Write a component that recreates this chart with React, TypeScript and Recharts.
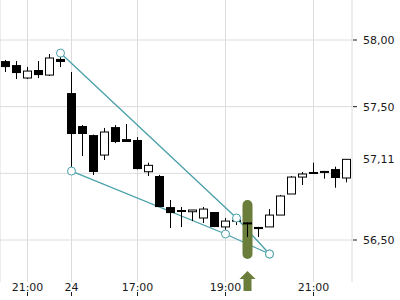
import React from 'react';
import { ComposedChart, Bar, Line, XAxis, YAxis, CartesianGrid, ReferenceArea, ReferenceDot } from 'recharts';

// 15 min bars, day 23 evening + day 24
const slots = [
  '23 20:30', '23 20:45', '23 21:00', '23 21:15', '23 21:30', '23 21:45',
  '24 15:30', '24 15:45', '24 16:00', '24 16:15', '24 16:30', '24 16:45',
  '24 17:00', '24 17:15', '24 17:30', '24 17:45', '24 18:00', '24 18:15',
  '24 18:30', '24 18:45', '24 19:00', '24 19:15', '24 19:30', '24 19:45',
  '24 20:00', '24 20:15', '24 20:30', '24 20:45', '24 21:00', '24 21:15',
  '24 21:30', '24 21:45',
];

const opens = [
  57.842, 57.812, 57.715, 57.775, 57.737, 57.858,
  57.602, 57.355, 57.287, 57.137, 57.347, 57.257,
  57.25, 57.012, 56.98, 56.747, 56.725, 56.712,
  56.665, 56.71, 56.598, 56.652, 56.632, 56.598,
  56.598, 56.687, 56.845, 56.972, 57.01, 57.018,
  57.032, 56.965,
];
const highs = [
  57.85, 57.842, 57.798, 57.842, 57.895, 57.902,
  57.76, 57.362, 57.29, 57.34, 57.362, 57.37,
  57.272, 57.08, 56.988, 56.8, 56.748, 56.725,
  56.748, 56.71, 56.665, 56.68, 56.632, 56.598,
  56.732, 56.838, 56.98, 57.01, 57.08, 57.018,
  57.05, 57.105,
];
const lows = [
  57.76, 57.707, 57.707, 57.715, 57.73, 57.797,
  57.01, 57.13, 56.987, 57.1, 57.227, 57.235,
  57.03, 56.98, 56.747, 56.59, 56.597, 56.642,
  56.627, 56.597, 56.545, 56.612, 56.522, 56.522,
  56.598, 56.687, 56.845, 56.912, 56.997, 56.96,
  56.892, 56.932,
];
const closes = [
  57.797, 57.752, 57.767, 57.737, 57.865, 57.835,
  57.295, 57.295, 57.01, 57.31, 57.235, 57.235,
  57.032, 57.06, 56.747, 56.702, 56.71, 56.725,
  56.732, 56.597, 56.642, 56.648, 56.622, 56.582,
  56.687, 56.83, 56.972, 56.995, 56.998, 57.005,
  56.965, 57.105,
];

const xTicks = ['23 21:00', '24 15:30', '24 17:00', '24 19:00', '24 21:00'];
const xTickLabels = ['21:00', '24', '17:00', '19:00', '21:00'];

const yTicks = [56.5, 57, 57.11, 57.5, 58];
const yTickLabels = ['56,50', '57,00', '57,11', '57,50', '58,00'];
const gridValues = [56.5, 57, 57.5, 58];
const lastPrice = 57.11;
const yMin = 56.185;
const yMax = 58.3;

// drawn trend lines
const upperSlots = ['23 21:45', '24 19:15', '24 20:00'];
const upperValues = [57.902, 56.665, 56.395];
const lowerSlots = ['24 15:30', '24 19:00', '24 20:00'];
const lowerValues = [57.017, 56.545, 56.395];

// highlighted bar + arrow marker
const markSlot = '24 19:30';
const markLow = 56.358;
const markHigh = 56.8;
const arrowValue = 56.192;

const teal = '#4aa0a8';
const olive = '#6b7d3a';
const textColor = '#1a1a1a';
const font = 'DejaVu Sans';

const data = slots.map((slot, i) => ({
  slot,
  open: opens[i],
  high: highs[i],
  low: lows[i],
  close: closes[i],
  range: [lows[i], highs[i]],
  upper: upperValues[upperSlots.indexOf(slot)] ?? null,
  lower: lowerValues[lowerSlots.indexOf(slot)] ?? null,
}));

const Candle = (props: any) => {
  const { x, y, width, height, payload } = props;
  const top = Math.min(y, y + height);
  const h = Math.abs(height);
  const { open, close, high, low } = payload;
  const px = (v: number) => top + ((high - v) / (high - low)) * h;
  const cx = Math.floor(x + width / 2) + 0.5;
  const bodyTop = px(Math.max(open, close));
  const bodyBottom = px(Math.min(open, close));
  const up = close > open;
  return (
    <g>
      <line x1={cx} x2={cx} y1={top} y2={top + h} stroke="#000" strokeWidth={1} />
      {up ? (
        <rect x={cx - 4} y={bodyTop} width={8} height={Math.max(bodyBottom - bodyTop, 1)} fill="#fff" stroke="#000" strokeWidth={1} />
      ) : (
        <rect x={cx - 4.5} y={bodyTop} width={9} height={Math.max(bodyBottom - bodyTop, 2)} fill="#000" />
      )}
    </g>
  );
};

const XTick = ({ x, y, payload }: any) => {
  const label = xTickLabels[xTicks.indexOf(payload.value)];
  return (
    <g>
      <line x1={x} x2={x} y1={y + 10} y2={y + 14} stroke={textColor} />
      <text x={x} y={y + 9} textAnchor="middle" fontSize={11} fontFamily={font} fill={textColor}>
        {label}
      </text>
    </g>
  );
};

const YTick = ({ x, y, payload }: any) => {
  const label = yTickLabels[yTicks.indexOf(payload.value)];
  const isLast = payload.value === lastPrice;
  return (
    <g>
      {!isLast && <line x1={x + 1} x2={x + 5} y1={y} y2={y} stroke={textColor} />}
      <text x={x + 11} y={y} dy={4} fontSize={11} fontFamily={font} fill={textColor}>
        {label}
      </text>
    </g>
  );
};

const Pill = (props: any) => {
  const { x, y, width, height } = props;
  const w = width - 1;
  return <rect x={x + 0.5} y={y} width={w} height={height} rx={w / 2} ry={w / 2} fill={olive} />;
};

const Arrow = (props: any) => {
  const { cx, cy } = props;
  const pts = [
    [cx, cy - 10], [cx + 8, cy - 2], [cx + 4, cy - 2], [cx + 4, cy + 10],
    [cx - 4, cy + 10], [cx - 4, cy - 2], [cx - 8, cy - 2],
  ].map(p => p.join(',')).join(' ');
  return <polygon points={pts} fill={olive} />;
};

export default function App() {
  return (
    <div style={{ position: 'absolute', left: 0, top: 0, background: '#fff' }}>
      <ComposedChart width={400} height={300} data={data} margin={{ top: 0, right: 0, bottom: 0, left: 0 }}>
        <CartesianGrid stroke="#dcdcdc" horizontalValues={gridValues} />
        <XAxis
          dataKey="slot"
          ticks={xTicks}
          interval={0}
          height={18}
          axisLine={false}
          tickLine={false}
          tickSize={0}
          tickMargin={0}
          tick={<XTick />}
        />
        <YAxis
          orientation="right"
          domain={[yMin, yMax]}
          allowDataOverflow
          ticks={yTicks}
          width={48}
          axisLine={false}
          tickLine={false}
          tickSize={0}
          tickMargin={0}
          tick={<YTick />}
        />
        <Line dataKey="upper" stroke={teal} strokeWidth={1.3} connectNulls dot={{ r: 4, fill: '#fff', stroke: teal, strokeWidth: 1 }} activeDot={false} isAnimationActive={false} zIndex={400} />
        <Line dataKey="lower" stroke={teal} strokeWidth={1.3} connectNulls dot={{ r: 4, fill: '#fff', stroke: teal, strokeWidth: 1 }} activeDot={false} isAnimationActive={false} zIndex={400} />
        <ReferenceArea x1={markSlot} x2={markSlot} y1={markLow} y2={markHigh} shape={Pill} ifOverflow="visible" zIndex={450} />
        <Bar dataKey="range" shape={<Candle />} isAnimationActive={false} zIndex={500} />
        <ReferenceDot x={markSlot} y={arrowValue} r={0} shape={Arrow} ifOverflow="visible" />
      </ComposedChart>
    </div>
  );
}
